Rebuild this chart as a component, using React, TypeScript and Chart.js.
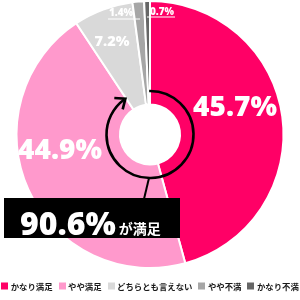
import React, { useEffect, useRef } from "react";
import { Chart, registerables } from "chart.js";

Chart.register(...registerables);

const categories = ["かなり満足", "やや満足", "どちらとも言えない", "やや不満", "かなり不満"];
const values = [45.7, 44.9, 7.2, 1.4, 0.7];
const valueLabels = ["45.7%", "44.9%", "7.2%", "1.4%", "0.7%"];
const colors = ["#ff0066", "#ff99cc", "#d9d9d9", "#a6a6a6", "#666666"];
const satisfiedText = "90.6%";
const satisfiedCaption = "が満足";

const numFont = '"Open Sans", "DejaVu Sans", sans-serif';
const jpFont = '"Noto Sans CJK JP", sans-serif';

// label placement relative to the doughnut centre (style only)
const labelLayout = [
  { dx: 85, dy: -26, font: `800 28px ${numFont}` },
  { dx: -90, dy: 17, font: `800 28px ${numFont}` },
  { dx: -38, dy: -93, font: `800 14.5px ${numFont}` },
  { dx: -29, dy: -121, font: `800 10px ${numFont}`, line: [-42, -10, -116] },
  { dx: 12, dy: -122, font: `800 10px ${numFont}`, line: [-3, 25, -118] },
];

const overlayPlugin = {
  id: "overlay",
  afterDraw(chart: any) {
    const ctx = chart.ctx as CanvasRenderingContext2D;
    const meta = chart.getDatasetMeta(0);
    const a0 = meta.data[0] as any;
    const cx = a0.x;
    const cy = a0.y;
    const inner = a0.innerRadius;

    // value labels
    ctx.save();
    ctx.fillStyle = "#ffffff";
    ctx.strokeStyle = "#ffffff";
    ctx.textAlign = "center";
    ctx.textBaseline = "middle";
    valueLabels.forEach((t, i) => {
      const l = labelLayout[i];
      ctx.font = l.font;
      ctx.fillText(t, cx + l.dx, cy + l.dy);
      if (l.line) {
        ctx.lineWidth = 1;
        ctx.beginPath();
        ctx.moveTo(cx + l.line[0], cy + l.line[2] + 0.5);
        ctx.lineTo(cx + l.line[1], cy + l.line[2] + 0.5);
        ctx.stroke();
      }
    });
    ctx.restore();

    // circular arrow for satisfied share
    const endA = (meta.data[1] as any).endAngle - 0.05;
    const startA = (meta.data[0] as any).startAngle - 0.02;
    const rr = inner + 13.5;
    ctx.save();
    ctx.strokeStyle = "#000";
    ctx.lineWidth = 2.6;
    ctx.lineCap = "butt";
    ctx.beginPath();
    ctx.arc(cx, cy, rr, startA, endA, false);
    ctx.stroke();
    const tx = cx + rr * Math.cos(endA);
    const ty = cy + rr * Math.sin(endA);
    const tan = [-Math.sin(endA), Math.cos(endA)];
    const back = [-tan[0], -tan[1]];
    const rot = (v: number[], d: number) => [
      v[0] * Math.cos(d) - v[1] * Math.sin(d),
      v[0] * Math.sin(d) + v[1] * Math.cos(d),
    ];
    const armL = 10;
    const a1 = rot(back, Math.PI / 4);
    const a2 = rot(back, -Math.PI / 4);
    ctx.lineJoin = "miter";
    ctx.beginPath();
    ctx.moveTo(tx + a1[0] * armL, ty + a1[1] * armL);
    ctx.lineTo(tx + tan[0] * 1.5, ty + tan[1] * 1.5);
    ctx.lineTo(tx + a2[0] * armL, ty + a2[1] * armL);
    ctx.stroke();

    // pointer from ring to the callout box
    const boxL = cx - 146;
    const boxT = cy + 63.5;
    ctx.lineWidth = 2;
    ctx.beginPath();
    ctx.moveTo(cx - 1, cy + rr);
    ctx.lineTo(cx - 6, boxT + 1);
    ctx.stroke();

    // callout box
    ctx.fillStyle = "#000";
    ctx.fillRect(boxL, boxT, 176, 40);
    ctx.fillStyle = "#fff";
    ctx.textAlign = "left";
    ctx.textBaseline = "alphabetic";
    ctx.font = `800 32px ${numFont}`;
    ctx.fillText(satisfiedText, boxL + 16, boxT + 36.5);
    const w = ctx.measureText(satisfiedText).width;
    ctx.font = `bold 14px ${jpFont}`;
    ctx.fillText(satisfiedCaption, boxL + 16 + w + 3, boxT + 35.5);
    ctx.restore();

    // legend
    ctx.save();
    ctx.font = `bold 8.4px ${jpFont}`;
    const box = 7;
    const gapBoxText = 2.5;
    const gapItem = 6;
    const widths = categories.map((c) => ctx.measureText(c).width);
    const total =
      widths.reduce((s, v) => s + v, 0) + categories.length * (box + gapBoxText) + (categories.length - 1) * gapItem;
    let x = (chart.width - total) / 2;
    const yMid = 286;
    ctx.textBaseline = "middle";
    ctx.textAlign = "left";
    categories.forEach((c, i) => {
      ctx.fillStyle = colors[i];
      ctx.fillRect(Math.round(x), yMid - 3.5, box, box);
      ctx.fillStyle = "#1a1a1a";
      ctx.fillText(c, x + box + gapBoxText, yMid + 0.5);
      x += box + gapBoxText + widths[i] + gapItem;
    });
    ctx.restore();
  },
};

export default function App() {
  const ref = useRef<HTMLCanvasElement | null>(null);
  useEffect(() => {
    if (!ref.current) return;
    const chart = new Chart(ref.current, {
      type: "doughnut",
      data: {
        labels: categories,
        datasets: [
          {
            data: values,
            backgroundColor: colors,
            borderColor: "#ffffff",
            borderWidth: 2,
          },
        ],
      },
      options: {
        responsive: false,
        animation: false,
        cutout: 30,
        layout: { padding: { top: 0, bottom: 31, left: 0, right: 0 } },
        plugins: {
          legend: { display: false },
          tooltip: { enabled: false },
        },
      },
      plugins: [overlayPlugin],
    });
    return () => chart.destroy();
  }, []);
  return (
    <div style={{ position: "fixed", left: 0, top: 0, width: 300, height: 300, background: "#fff" }}>
      <canvas ref={ref} width={300} height={300} style={{ display: "block" }} />
    </div>
  );
}
